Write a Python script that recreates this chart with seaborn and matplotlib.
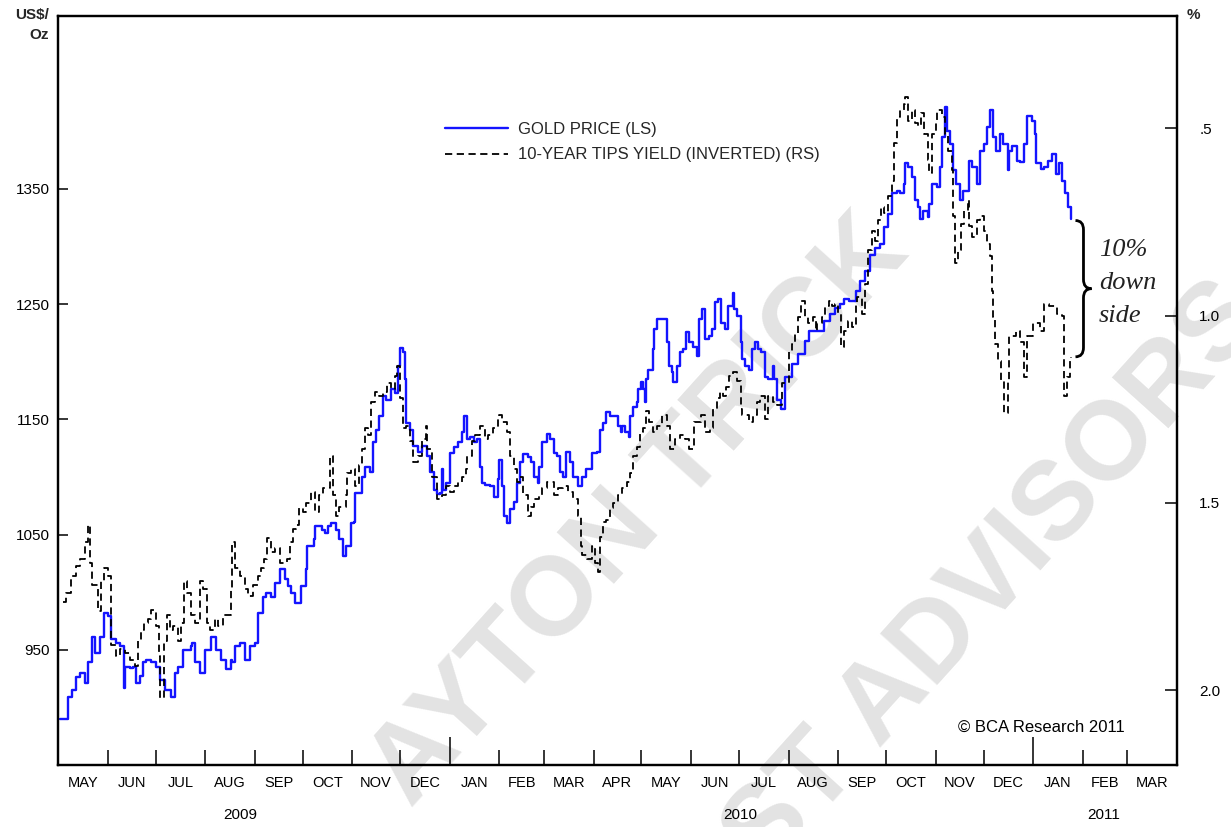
import numpy as np
import pandas as pd
import matplotlib
matplotlib.use("Agg")
import matplotlib.pyplot as plt
import matplotlib.dates as mdates
from matplotlib.ticker import FixedLocator, FixedFormatter, NullFormatter
from matplotlib.path import Path
from matplotlib.patches import PathPatch
import matplotlib.transforms as mtransforms
import seaborn as sns

sns.set_theme(style="white")
plt.rcParams["font.family"] = ["Liberation Sans", "DejaVu Sans"]

# ---------------- data ----------------
start = pd.Timestamp("2009-05-01")

gold_days = [
    1, 6, 9, 11, 14, 17, 19, 21, 23, 26,
    29, 31, 33, 36, 39, 41, 42, 45, 47, 49,
    51, 53, 55, 58, 61, 64, 67, 71, 73, 75,
    78, 83, 84, 86, 89, 92, 96, 99, 102, 105,
    108, 109, 111, 114, 117, 120, 123, 125, 128, 130,
    133, 136, 139, 142, 144, 146, 148, 150, 152, 155,
    156, 160, 161, 165, 167, 169, 171, 174, 176, 178,
    180, 183, 185, 186, 190, 192, 195, 197, 199, 201,
    203, 205, 208, 211, 213, 214, 216, 217, 218, 220,
    222, 225, 228, 231, 233, 235, 237, 239, 240, 241,
    243, 245, 248, 250, 253, 254, 256, 258, 260, 262,
    264, 265, 267, 270, 273, 275, 276, 278, 279, 281,
    283, 285, 287, 289, 291, 294, 296, 298, 300, 301,
    303, 306, 308, 310, 312, 314, 316, 318, 320, 322,
    325, 328, 330, 332, 334, 337, 339, 341, 343, 345,
    347, 350, 352, 353, 355, 357, 358, 360, 362, 363,
    365, 366, 367, 368, 369, 372, 373, 375, 378, 381,
    382, 384, 385, 387, 389, 391, 393, 395, 397, 400,
    401, 403, 405, 407, 409, 411, 413, 415, 417, 419,
    422, 423, 425, 427, 428, 430, 432, 434, 436, 438,
    440, 442, 444, 447, 448, 450, 452, 455, 459, 463,
    467, 470, 475, 479, 483, 486, 489, 492, 495, 499,
    502, 505, 508, 511, 514, 517, 519, 522, 525, 527,
    529, 530, 532, 534, 536, 538, 539, 541, 544, 545,
    547, 550, 552, 553, 555, 556, 558, 560, 562, 564,
    566, 569, 570, 572, 575, 577, 579, 581, 583, 585,
    587, 589, 591, 594, 595, 597, 600, 602, 604, 606,
    609, 611, 612, 615, 617, 619, 622, 624, 626, 628,
    630, 632, 634,
]
gold_price = [
    890, 909, 915, 926, 930, 921, 939, 961, 947, 961,
    982, 979, 959, 956, 953, 917, 935, 934, 935, 921,
    927, 939, 941, 939, 935, 924, 915, 909, 930, 935,
    950, 953, 956, 939, 930, 950, 961, 950, 941, 933,
    941, 939, 953, 956, 941, 953, 956, 982, 996, 999,
    996, 1008, 1020, 1011, 1005, 999, 991, 991, 1005, 1020,
    1040, 1046, 1057, 1054, 1051, 1057, 1060, 1054, 1046, 1031,
    1040, 1060, 1061, 1086, 1100, 1109, 1104, 1130, 1141, 1153,
    1170, 1167, 1176, 1173, 1196, 1212, 1208, 1185, 1147, 1141,
    1127, 1122, 1127, 1118, 1104, 1089, 1085, 1086, 1107, 1089,
    1095, 1121, 1126, 1130, 1139, 1153, 1133, 1135, 1130, 1133,
    1109, 1095, 1093, 1092, 1083, 1098, 1115, 1092, 1066, 1060,
    1072, 1078, 1095, 1113, 1120, 1117, 1113, 1100, 1095, 1109,
    1130, 1137, 1133, 1121, 1118, 1104, 1100, 1122, 1113, 1100,
    1092, 1100, 1107, 1107, 1121, 1122, 1141, 1147, 1156, 1153,
    1153, 1144, 1139, 1144, 1139, 1135, 1153, 1161, 1165, 1176,
    1182, 1176, 1165, 1185, 1193, 1211, 1228, 1237, 1237, 1217,
    1196, 1191, 1182, 1196, 1208, 1211, 1226, 1217, 1213, 1205,
    1237, 1246, 1220, 1222, 1228, 1252, 1254, 1234, 1228, 1248,
    1260, 1246, 1240, 1217, 1202, 1196, 1193, 1211, 1217, 1211,
    1208, 1187, 1185, 1196, 1185, 1167, 1159, 1187, 1198, 1207,
    1218, 1227, 1227, 1235, 1241, 1247, 1250, 1254, 1253, 1261,
    1270, 1279, 1293, 1299, 1302, 1317, 1328, 1346, 1348, 1346,
    1354, 1372, 1369, 1360, 1340, 1334, 1324, 1331, 1326, 1337,
    1354, 1352, 1369, 1395, 1421, 1400, 1389, 1366, 1354, 1340,
    1348, 1348, 1374, 1369, 1354, 1383, 1389, 1404, 1418, 1395,
    1383, 1398, 1389, 1366, 1383, 1387, 1374, 1373, 1389, 1413,
    1409, 1398, 1372, 1367, 1369, 1374, 1380, 1363, 1372, 1357,
    1346, 1334, 1324,
]

tips_days = [
    3, 5, 8, 11, 14, 17, 19, 20, 21, 23,
    25, 27, 29, 31, 33, 36, 39, 42, 45, 48,
    50, 52, 54, 56, 58, 61, 63, 64, 66, 68,
    70, 72, 75, 77, 79, 81, 83, 86, 89, 91,
    93, 95, 98, 100, 103, 105, 108, 109, 111, 114,
    117, 119, 122, 125, 127, 129, 131, 133, 136, 139,
    143, 145, 147, 149, 151, 153, 155, 158, 161, 163,
    166, 168, 170, 172, 174, 176, 180, 181, 183, 186,
    188, 190, 192, 194, 196, 198, 201, 203, 206, 208,
    211, 212, 214, 216, 218, 220, 222, 225, 228, 230,
    231, 234, 237, 240, 243, 245, 248, 250, 253, 255,
    256, 259, 261, 264, 267, 269, 272, 275, 276, 278,
    281, 283, 285, 287, 289, 291, 294, 296, 298, 301,
    303, 306, 310, 313, 316, 319, 322, 325, 327, 328,
    331, 334, 336, 338, 339, 341, 343, 345, 347, 350,
    353, 356, 358, 360, 362, 364, 366, 368, 370, 372,
    375, 378, 381, 383, 386, 389, 392, 395, 398, 402,
    405, 408, 410, 412, 414, 416, 418, 420, 422, 425,
    427, 428, 432, 435, 437, 439, 442, 444, 447, 450,
    453, 457, 459, 461, 463, 465, 467, 469, 472, 474,
    475, 478, 480, 482, 484, 486, 488, 490, 492, 494,
    497, 499, 500, 503, 505, 507, 509, 511, 513, 515,
    517, 519, 522, 523, 525, 527, 529, 530, 532, 534,
    536, 538, 540, 542, 544, 545, 547, 549, 550, 553,
    555, 557, 559, 560, 561, 563, 565, 567, 569, 570,
    572, 575, 577, 579, 581, 583, 584, 585, 586, 588,
    590, 592, 594, 595, 599, 602, 604, 606, 610, 614,
    617, 620, 625, 628, 629, 631, 633, 634,
]
tips_yield = [
    1.765, 1.74, 1.695, 1.668, 1.65, 1.605, 1.56, 1.66, 1.72, 1.72,
    1.79, 1.71, 1.675, 1.695, 1.88, 1.91, 1.89, 1.90, 1.92, 1.935,
    1.865, 1.84, 1.82, 1.81, 1.785, 1.83, 1.91, 2.02, 1.87, 1.80,
    1.84, 1.83, 1.87, 1.82, 1.71, 1.74, 1.80, 1.82, 1.71, 1.73,
    1.82, 1.84, 1.81, 1.83, 1.80, 1.80, 1.73, 1.605, 1.675, 1.695,
    1.73, 1.75, 1.72, 1.695, 1.675, 1.65, 1.595, 1.63, 1.62, 1.66,
    1.65, 1.605, 1.57, 1.56, 1.515, 1.525, 1.50, 1.47, 1.525, 1.48,
    1.46, 1.46, 1.375, 1.48, 1.535, 1.51, 1.48, 1.42, 1.41, 1.455,
    1.40, 1.355, 1.30, 1.32, 1.23, 1.205, 1.215, 1.205, 1.18, 1.195,
    1.16, 1.135, 1.22, 1.30, 1.295, 1.335, 1.39, 1.375, 1.33, 1.295,
    1.355, 1.43, 1.49, 1.48, 1.455, 1.47, 1.455, 1.445, 1.43, 1.41,
    1.375, 1.335, 1.32, 1.295, 1.33, 1.32, 1.30, 1.275, 1.265, 1.285,
    1.31, 1.375, 1.41, 1.445, 1.43, 1.48, 1.535, 1.51, 1.49, 1.48,
    1.46, 1.445, 1.48, 1.46, 1.455, 1.47, 1.49, 1.535, 1.615, 1.64,
    1.65, 1.615, 1.66, 1.685, 1.59, 1.55, 1.545, 1.515, 1.50, 1.48,
    1.46, 1.445, 1.42, 1.375, 1.35, 1.31, 1.30, 1.255, 1.285, 1.31,
    1.295, 1.265, 1.295, 1.355, 1.33, 1.32, 1.33, 1.355, 1.285, 1.265,
    1.31, 1.30, 1.25, 1.22, 1.205, 1.215, 1.19, 1.16, 1.15, 1.175,
    1.25, 1.265, 1.285, 1.265, 1.23, 1.215, 1.275, 1.215, 1.23, 1.24,
    1.18, 1.095, 1.075, 1.05, 1.005, 0.96, 1.005, 1.02, 1.005, 1.04,
    1.02, 1.005, 0.975, 0.96, 0.975, 0.97, 0.995, 1.085, 1.04, 1.015,
    1.03, 0.97, 0.95, 0.995, 0.915, 0.825, 0.775, 0.80, 0.745, 0.71,
    0.725, 0.68, 0.64, 0.54, 0.47, 0.45, 0.435, 0.415, 0.48, 0.45,
    0.485, 0.495, 0.46, 0.515, 0.585, 0.62, 0.515, 0.485, 0.45, 0.47,
    0.515, 0.56, 0.61, 0.735, 0.86, 0.825, 0.755, 0.72, 0.69, 0.76,
    0.79, 0.745, 0.735, 0.775, 0.81, 0.84, 0.935, 1.005, 1.075, 1.12,
    1.175, 1.26, 1.175, 1.055, 1.04, 1.07, 1.165, 1.055, 1.02, 1.04,
    0.97, 0.975, 0.995, 1.00, 1.215, 1.165, 1.12, 1.11,
]

month_labels = ["MAY", "JUN", "JUL", "AUG", "SEP", "OCT", "NOV", "DEC",
                "JAN", "FEB", "MAR", "APR", "MAY", "JUN", "JUL", "AUG",
                "SEP", "OCT", "NOV", "DEC", "JAN", "FEB", "MAR"]
year_labels = ["2009", "2010", "2011"]
left_ticks = [950, 1050, 1150, 1250, 1350]
right_ticks = [0.5, 1.0, 1.5, 2.0]
right_tick_labels = [".5", "1.0", "1.5", "2.0"]
legend_labels = ["GOLD PRICE (LS)", "10-YEAR TIPS YIELD (INVERTED) (RS)"]
note_lines = ["10%", "down", "side"]

# ---------------- layout constants ----------------
W, H = 1231, 827
x_end = pd.Timestamp("2011-04-01")
left_lim = (850, 1500)
right_lim = (2.2, 0.2)
year_label_dates = ["2009-08-23", "2010-07-02", "2011-02-14"]

gold = pd.DataFrame({"date": start + pd.to_timedelta(gold_days, unit="D"),
                     "price": gold_price})
tips = pd.DataFrame({"date": start + pd.to_timedelta(tips_days, unit="D"),
                     "tips": tips_yield})

fig = plt.figure(figsize=(W / 100, H / 100), dpi=100)
fig.patch.set_facecolor("white")
ax = fig.add_axes([58 / W, 1 - 765 / H, (1177 - 58) / W, (765 - 16) / H])
ax2 = ax.twinx()
ax.set_facecolor("none")
ax2.set_facecolor("none")

# watermark (behind the axes)
wm = dict(fontsize=80, fontweight="bold", color="#e3e3e3", ha="center",
          va="center", rotation=48, rotation_mode="anchor", zorder=-10)
fig.text(640 / W, 1 - 512 / H, "AYTON TRICK", **wm)
fig.text(995 / W, 1 - 578 / H, "ST ADVISORS", **wm)

sns.lineplot(data=gold, x="date", y="price", ax=ax, color="#1414ff",
             linewidth=1.7, drawstyle="steps-post", estimator=None,
             sort=False, legend=False)
sns.lineplot(data=tips, x="date", y="tips", ax=ax2, color="black",
             linewidth=1.3, linestyle=(0, (4, 2.5)), drawstyle="steps-post",
             estimator=None, sort=False, legend=False)

ax.set_xlim(start, x_end)
ax.set_ylim(*left_lim)
ax2.set_ylim(*right_lim)
ax.set_xlabel("")
ax.set_ylabel("")
ax2.set_ylabel("")

for a in (ax, ax2):
    for s in a.spines.values():
        s.set_visible(True)
        s.set_color("black")
        s.set_linewidth(1.6)

# y axes
ax.set_yticks(left_ticks)
ax.set_yticklabels([str(v) for v in left_ticks])
ax.tick_params(axis="y", direction="in", length=7.5, width=1.1,
               color="black", pad=6, labelsize=11, labelcolor="black",
               left=True, right=False)
ax2.set_yticks(right_ticks)
ax2.set_yticklabels(right_tick_labels)
ax2.tick_params(axis="y", direction="in", length=8.5, width=1.1,
                color="black", pad=16, labelsize=11, labelcolor="black",
                right=True, left=False)

# x axis: month boundary ticks, labels centred in each month
month_starts = pd.date_range(start, x_end, freq="MS")
mids = [a + (b - a) / 2 for a, b in zip(month_starts[:-1], month_starts[1:])]
ax.xaxis.set_major_locator(FixedLocator(mdates.date2num(month_starts)))
ax.xaxis.set_major_formatter(NullFormatter())
ax.xaxis.set_minor_locator(FixedLocator(mdates.date2num(mids)))
ax.xaxis.set_minor_formatter(FixedFormatter(month_labels))
ax.tick_params(axis="x", which="major", direction="in", length=11,
               width=1.1, color="black", bottom=True, top=False)
ax.tick_params(axis="x", which="minor", length=0, pad=8, labelsize=10.5,
               labelcolor="black", bottom=True, top=False)
for t, loc in zip(ax.xaxis.get_major_ticks(), ax.xaxis.get_majorticklocs()):
    if mdates.num2date(loc).month == 1:
        t.tick1line.set_markersize(20)

blend = mtransforms.blended_transform_factory(ax.transData, ax.transAxes)
for d, lab in zip(year_label_dates, year_labels):
    ax.text(mdates.date2num(pd.Timestamp(d)), -0.067, lab, transform=blend,
            ha="center", va="center", fontsize=11, color="black")

# axis unit labels
fig.text(49 / W, 1 - 8 / H, "US$/\nOz", ha="right", va="top", fontsize=11,
         fontweight="bold", linespacing=1.55, multialignment="right")
fig.text(1187 / W, 1 - 8 / H, "%", ha="left", va="top", fontsize=11,
         fontweight="bold")

# legend
leg = ax2.legend(handles=[ax.lines[0], ax2.lines[0]], labels=legend_labels,
                 loc="upper left", bbox_to_anchor=(445 / W, 1 - 122 / H),
                 bbox_transform=fig.transFigure, frameon=False, fontsize=12,
                 handlelength=3.8, handletextpad=0.6, labelspacing=0.62,
                 borderpad=0, borderaxespad=0)

# copyright
fig.text(1125 / W, 1 - 727 / H, "\u00a9 BCA Research 2011", ha="right",
         va="center", fontsize=12, color="black")

# brace: from last gold price down to the last TIPS value (mapped on LS)
x_last = mdates.date2num(gold["date"].iloc[-1])
y_top = gold_price[-1] - 1.5
frac = (right_lim[0] - tips_yield[-1]) / (right_lim[0] - right_lim[1])
y_bot = left_lim[0] + frac * (left_lim[1] - left_lim[0])
y_mid = (y_top + y_bot) / 2
x0, xm, xt = x_last + 2.5, x_last + 7.5, x_last + 12.5
r = 8
verts = [(x0, y_top), (xm, y_top), (xm, y_top - r), (xm, y_mid + r),
         (xm, y_mid), (xt, y_mid), (xm, y_mid), (xm, y_mid - r),
         (xm, y_bot + r), (xm, y_bot), (x0, y_bot)]
codes = [Path.MOVETO, Path.CURVE3, Path.CURVE3, Path.LINETO,
         Path.CURVE3, Path.CURVE3, Path.CURVE3, Path.CURVE3,
         Path.LINETO, Path.CURVE3, Path.CURVE3]
ax.add_patch(PathPatch(Path(verts, codes), facecolor="none",
                       edgecolor="black", linewidth=2.0, zorder=5))

note_y = [250, 283, 316]
for txt, yy in zip(note_lines, note_y):
    fig.text(1099 / W, 1 - yy / H, txt, ha="left", va="center",
             fontsize=19, style="italic", family="Liberation Serif",
             color="#222222")

fig.savefig("out.png", dpi=100, facecolor="white")
